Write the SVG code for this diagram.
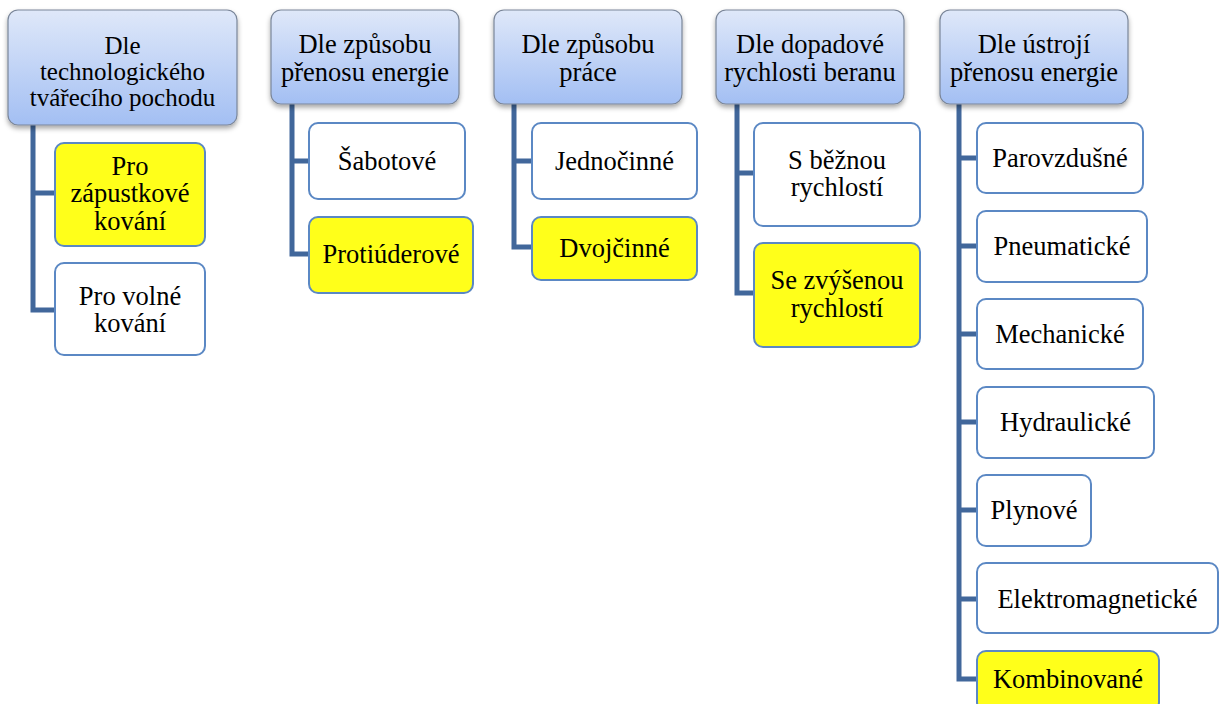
<svg xmlns="http://www.w3.org/2000/svg" width="1219" height="704" viewBox="0 0 1219 704">
<defs>
<linearGradient id="hg" x1="0" y1="0" x2="0" y2="1">
<stop offset="0" stop-color="#dfe8f9"/>
<stop offset="1" stop-color="#a3bff3"/>
</linearGradient>
<filter id="sh" x="-10%" y="-10%" width="120%" height="130%">
<feDropShadow dx="0" dy="3" stdDeviation="2.5" flood-color="#000" flood-opacity="0.35"/>
</filter>
</defs>
<style>
.h{fill:url(#hg);stroke:#7a8699;stroke-width:1.2;filter:url(#sh)}
.c{fill:#ffffff;stroke:#5b88c4;stroke-width:2}
.y{fill:#ffff1a;stroke:#5b88c4;stroke-width:2}
text{font-size:26.5px;fill:#000;text-anchor:middle}
.s{font-size:25px}
.con{fill:none;stroke:#41679b;stroke-width:5;stroke-linejoin:miter}
</style>
<rect width="1219" height="704" fill="#ffffff"/>
<g id="connectors">
<path class="con" d="M33,125 V310 H55 M33,193 H55"/>
<path class="con" d="M292,104 V254 H309 M292,161 H309"/>
<path class="con" d="M514,104 V247 H532 M514,161 H532"/>
<path class="con" d="M737,104 V293 H754 M737,173 H754"/>
<path class="con" d="M959,104 V679 H977 M959,158 H977 M959,246 H977 M959,334 H977 M959,422 H977 M959,510 H977 M959,599 H977"/>
</g>
<g font-family="'Liberation Serif', 'DejaVu Serif', serif">
<g id="h1"><rect class="h" x="8" y="10" width="229" height="115" rx="10"/>
<text class="s" x="122.5" y="54">Dle</text><text class="s" x="122.5" y="80">technologického</text><text class="s" x="122.5" y="106">tvářecího pochodu</text></g>
<g id="h2"><rect class="h" x="271" y="10" width="188" height="94" rx="10"/>
<text x="365" y="53">Dle způsobu</text><text x="365" y="80.5">přenosu energie</text></g>
<g id="h3"><rect class="h" x="494" y="10" width="188" height="94" rx="10"/>
<text x="588" y="53">Dle způsobu</text><text x="588" y="80.5">práce</text></g>
<g id="h4"><rect class="h" x="716" y="10" width="188" height="94" rx="10"/>
<text x="810" y="53">Dle dopadové</text><text x="810" y="80.5">rychlosti beranu</text></g>
<g id="h5"><rect class="h" x="940" y="10" width="188" height="94" rx="10"/>
<text x="1034" y="53">Dle ústrojí</text><text x="1034" y="80.5">přenosu energie</text></g>

<g id="c1a"><rect class="y" x="55" y="143" width="150" height="103" rx="9"/>
<text x="130" y="174.5">Pro</text><text x="130" y="202">zápustkové</text><text x="130" y="229.5">kování</text></g>
<g id="c1b"><rect class="c" x="55" y="263" width="150" height="92" rx="9"/>
<text x="130" y="304.5">Pro volné</text><text x="130" y="332">kování</text></g>

<g id="c2a"><rect class="c" x="309" y="123" width="156" height="76" rx="9"/>
<text x="387" y="169.5">Šabotové</text></g>
<g id="c2b"><rect class="y" x="309" y="217" width="164" height="76" rx="9"/>
<text x="391" y="263">Protiúderové</text></g>

<g id="c3a"><rect class="c" x="532" y="123" width="165" height="76" rx="9"/>
<text x="614.5" y="169.5">Jednočinné</text></g>
<g id="c3b"><rect class="y" x="532" y="217" width="165" height="63" rx="9"/>
<text x="614.5" y="257">Dvojčinné</text></g>

<g id="c4a"><rect class="c" x="754" y="123" width="166" height="103" rx="9"/>
<text x="837" y="168.5">S běžnou</text><text x="837" y="196">rychlostí</text></g>
<g id="c4b"><rect class="y" x="754" y="243" width="166" height="104" rx="9"/>
<text x="837" y="289">Se zvýšenou</text><text x="837" y="316.5">rychlostí</text></g>

<g id="c5a"><rect class="c" x="977" y="123" width="166" height="70" rx="9"/>
<text x="1060" y="167">Parovzdušné</text></g>
<g id="c5b"><rect class="c" x="977" y="211" width="170" height="71" rx="9"/>
<text x="1062" y="255">Pneumatické</text></g>
<g id="c5c"><rect class="c" x="977" y="299" width="166" height="70" rx="9"/>
<text x="1060" y="343">Mechanické</text></g>
<g id="c5d"><rect class="c" x="977" y="387" width="177" height="71" rx="9"/>
<text x="1065.5" y="431">Hydraulické</text></g>
<g id="c5e"><rect class="c" x="977" y="475" width="114" height="71" rx="9"/>
<text x="1034" y="519">Plynové</text></g>
<g id="c5f"><rect class="c" x="977" y="563" width="241" height="70" rx="9"/>
<text x="1097.5" y="607.5">Elektromagnetické</text></g>
<g id="c5g"><rect class="y" x="977" y="651" width="182" height="60" rx="9"/>
<text x="1068" y="688">Kombinované</text></g>
</g>
</svg>
